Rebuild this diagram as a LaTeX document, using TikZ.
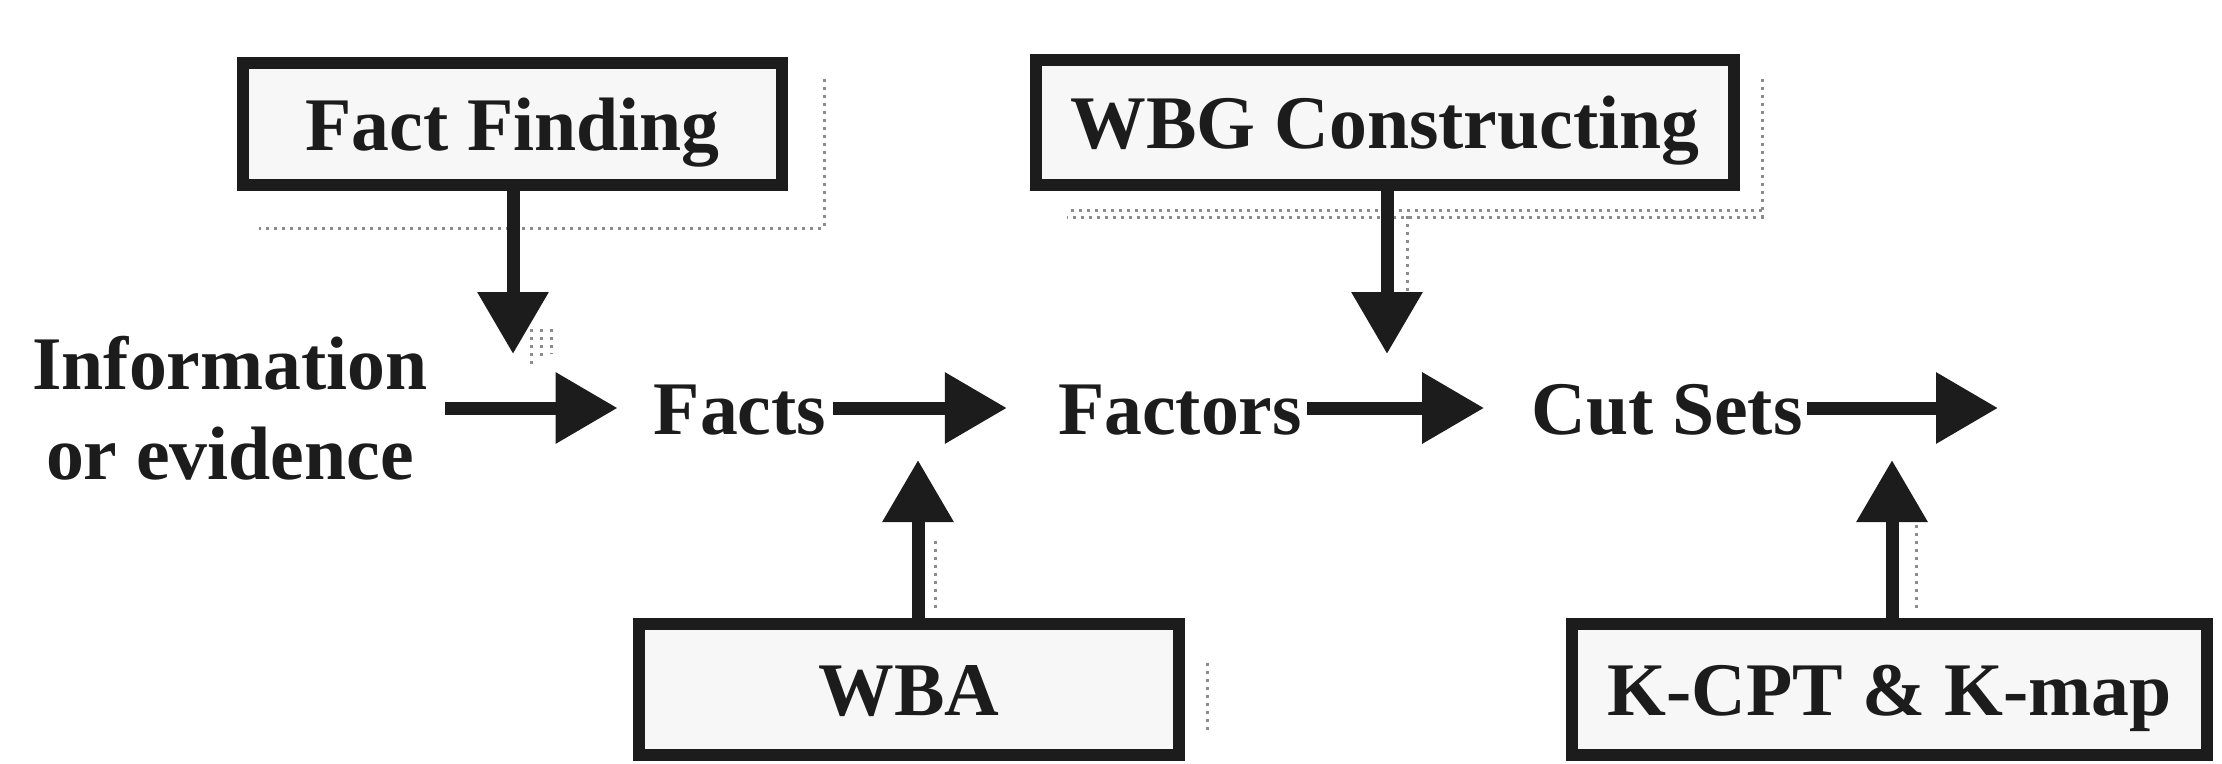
\documentclass[tikz,border=0pt]{standalone}
\usepackage{fontspec}
\setmainfont{Liberation Serif}
\usetikzlibrary{arrows.meta,calc}
\definecolor{inkc}{HTML}{1C1C1C}
\begin{document}
\begin{tikzpicture}[x=1bp,y=-1bp,
  bigfont/.style={font=\bfseries\fontsize{76}{90}\selectfont},
  procbox/.style={bigfont,draw=inkc,line width=12bp,fill=black!3,inner sep=0pt,
    text height=52bp,text depth=0bp,text=inkc},
  stage/.style={bigfont,inner sep=0pt,text height=52bp,text depth=0bp,text=inkc},
  flow/.style={draw=inkc,line width=13bp,-{Triangle[length=62bp,width=68bp]}},
  shade/.style={draw=black!45,line width=3bp,dash pattern=on 3bp off 5bp},
]
\useasboundingbox (0,0) rectangle (2222,763);

% process boxes
\node[procbox,minimum width=539bp,minimum height=122bp] (ff)   at (512.5,124) {Fact Finding};
\node[procbox,minimum width=698bp,minimum height=125bp] (wbg)  at (1385,122.5) {WBG Constructing};
\node[procbox,minimum width=540bp,minimum height=131bp] (wba)  at (909,689) {WBA};
\node[procbox,minimum width=635bp,minimum height=131bp] (kcpt) at (1889.5,689) {K-CPT \& K-map};

% stages of the main flow
\node[bigfont,inner sep=0pt,align=center,text=inkc] (info) at (230,408) {Information\\or evidence};
\node[stage] (facts)   at (740,408)  {Facts};
\node[stage] (factors) at (1180,408) {Factors};
\node[stage] (cuts)    at (1667,408) {Cut Sets};
\coordinate (out) at (1998,408);

% tips of the vertical inputs
\coordinate (ffTip)  at (513,354);
\coordinate (wbgTip) at (1387,354);
\coordinate (wbaTip) at (918,460);
\coordinate (kTip)   at (1892,460);

% dotted shadows
\draw[shade] ($(ff.north east)+(36,22)$) -- ($(ff.south east)+(36,37)$) -- ($(ff.south west)+(22,37)$);
\draw[shade] ($(wbg.north east)+(22,25)$) -- ($(wbg.south east)+(22,26)$) -- ($(wbg.south west)+(37,26)$);
\draw[shade] ($(wbg.south east)+(22,19)$) -- ($(wbg.south west)+(37,19)$);
\draw[shade] ($(wba.north east)+(22,45)$) -- ($(wba.north east)+(22,116)$);
\draw[shade] ($(ffTip)+(18,-25)$) -- ($(ffTip)+(18,12)$);
\draw[shade] ($(ffTip)+(28,-25)$) -- ($(ffTip)+(28,5)$);
\draw[shade] ($(ffTip)+(38,-25)$) -- ($(ffTip)+(38,0)$);
\draw[shade] ($(wbgTip |- wbg.south)+(20,25)$) -- ($(wbgTip)+(20,-50)$);
\draw[shade] ($(wbaTip |- wba.north)+(17,-10)$) -- ($(wbaTip)+(17,78)$);
\draw[shade] ($(kTip |- kcpt.north)+(24,-10)$) -- ($(kTip)+(24,64)$);

% main flow
\draw[flow,shorten <=17bp,shorten >=36bp] (info.east |- facts.west) -- (facts.west);
\draw[flow,shorten <=7bp,shorten >=51bp] (facts.east) -- (factors.west);
\draw[flow,shorten <=5bp,shorten >=47bp] (factors.east) -- (cuts.west);
\draw[flow,shorten <=4bp] (cuts.east) -- (out);

% inputs from the process boxes
\draw[flow] (ffTip |- ff.south) -- (ffTip);
\draw[flow] (wbgTip |- wbg.south) -- (wbgTip);
\draw[flow] (wbaTip |- wba.north) -- (wbaTip);
\draw[flow] (kTip |- kcpt.north) -- (kTip);
\end{tikzpicture}
\end{document}
